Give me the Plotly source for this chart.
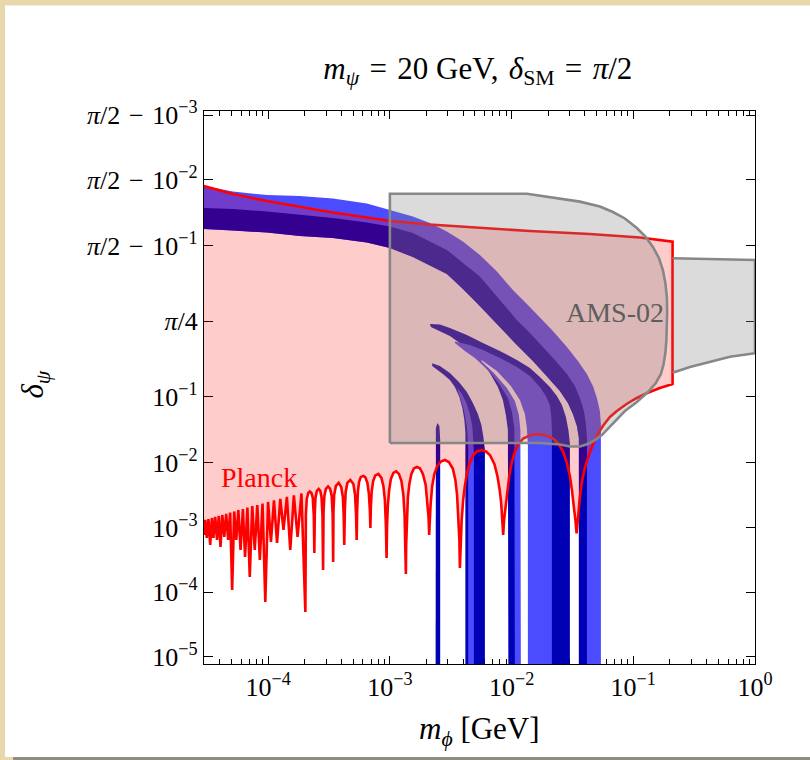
import numpy as np
import plotly.graph_objects as go

HALF_PI = np.pi / 2


def axis_y(delta):
    """Vertical coordinate: log10(delta / (pi/2 - delta))."""
    d = np.asarray(delta, dtype=float)
    return np.log10(d / (HALF_PI - d))


# ---------------------------------------------------------------- data
# (m_phi [GeV], delta_psi) pairs

# Planck: upper edge, left to right
planck_top = [
    (2.96e-5, 1.5583), (5.13e-5, 1.5542), (9.76e-5, 1.5496), (1.822e-4, 1.5446),
    (3.401e-4, 1.5391), (6.471e-4, 1.5330), (1.0e-3, 1.5281), (2.132e-3, 1.5226),
    (5.49e-3, 1.5164), (1.414e-2, 1.5105), (4.399e-2, 1.5040), (0.1133, 1.4956),
    (0.2103, 1.4841),
]

# Planck: lower edge with the resonance dips, right to left
planck_low = [
    (0.2103, 0.1516), (0.1654, 0.13316), (0.1286, 0.11184), (0.1050, 0.09404),
    (0.0881, 0.07813), (0.07332, 0.06153), (0.06423, 0.05006), (0.05626, 0.03663),
    (0.05118, 0.02770), (0.04683, 0.01949), (0.04317, 0.01322), (0.04003, 8.386e-3),
    (0.03781, 5.088e-3), (0.03640, 2.979e-3), (0.03539, 1.745e-3), (0.03459, 1.098e-3),
    (0.03420, 8.16e-4),
    (0.03343, 1.312e-3), (0.03250, 2.241e-3), (0.03130, 3.825e-3), (0.03013, 6.302e-3),
    (0.02847, 9.96e-3), (0.02655, 0.01469), (0.02401, 0.02019), (0.02197, 0.02366),
    (0.01913, 0.02627), (0.01654, 0.02741), (0.01414, 0.02627), (0.01245, 0.02366),
    (0.01127, 0.01883), (0.01064, 0.01469), (0.01006, 0.01031), (9.592e-3, 6.532e-3),
    (9.237e-3, 3.825e-3), (8.895e-3, 2.241e-3), (8.678e-3, 1.312e-3), (8.531e-3, 7.684e-4),
    (8.402e-3, 1.409e-3), (8.212e-3, 2.406e-3), (7.983e-3, 3.825e-3), (7.643e-3, 6.302e-3),
    (7.222e-3, 9.61e-3), (6.634e-3, 0.01322), (6.150e-3, 0.01496), (5.669e-3, 0.01577),
    (5.187e-3, 0.01496), (4.808e-3, 0.01276), (4.498e-3, 9.61e-3), (4.291e-3, 6.770e-3),
    (4.132e-3, 4.412e-3), (4.001e-3, 2.678e-3), (3.890e-3, 1.312e-3), (3.817e-3, 6.429e-4),
    (3.760e-3, 2.367e-4),
    (3.724e-3, 6.429e-4), (3.655e-3, 1.568e-3), (3.566e-3, 3.199e-3), (3.452e-3, 5.464e-3),
    (3.293e-3, 8.091e-3), (3.053e-3, 0.01031), (2.830e-3, 0.01108), (2.625e-3, 0.01050),
    (2.457e-3, 8.95e-3), (2.322e-3, 6.770e-3), (2.227e-3, 4.412e-3), (2.160e-3, 2.241e-3),
    (2.123e-3, 1.312e-3), (2.103e-3, 7.684e-4),
    (2.080e-3, 1.409e-3), (2.033e-3, 2.678e-3), (1.969e-3, 4.571e-3), (1.867e-3, 6.770e-3),
    (1.764e-3, 8.237e-3), (1.667e-3, 8.690e-3), (1.575e-3, 8.237e-3), (1.502e-3, 6.770e-3),
    (1.446e-3, 4.737e-3), (1.405e-3, 2.876e-3), (1.379e-3, 1.312e-3), (1.361e-3, 5.378e-4),
    (1.353e-3, 1.912e-4),
    (1.341e-3, 6.429e-4), (1.321e-3, 1.568e-3), (1.291e-3, 3.199e-3), (1.243e-3, 5.273e-3),
    (1.186e-3, 6.770e-3), (1.127e-3, 7.401e-3), (1.069e-3, 7.016e-3), (1.019e-3, 5.662e-3),
    (9.868e-4, 3.825e-3), (9.629e-4, 2.241e-3), (9.484e-4, 1.098e-3), (9.395e-4, 3.382e-4),
    (9.271e-4, 1.098e-3), (9.098e-4, 2.678e-3), (8.843e-4, 4.412e-3), (8.516e-4, 5.868e-3),
    (8.044e-4, 6.770e-3), (7.600e-4, 6.418e-3), (7.290e-4, 5.273e-3), (7.087e-4, 3.562e-3),
    (6.980e-4, 2.086e-3), (6.914e-4, 9.863e-4),
    (6.849e-4, 1.874e-3), (6.720e-4, 3.316e-3), (6.532e-4, 4.910e-3), (6.290e-4, 5.974e-3),
    (6.057e-4, 6.302e-3), (5.776e-4, 6.081e-3), (5.583e-4, 5.088e-3), (5.458e-4, 3.562e-3),
    (5.386e-4, 1.874e-3), (5.335e-4, 6.429e-4),
    (5.275e-4, 1.568e-3), (5.176e-4, 3.199e-3), (5.012e-4, 4.737e-3), (4.735e-4, 5.464e-3),
    (4.474e-4, 4.910e-3), (4.332e-4, 3.562e-3), (4.267e-4, 1.874e-3), (4.219e-4, 5.378e-4),
    (4.172e-4, 1.568e-3), (4.109e-4, 2.979e-3), (3.980e-4, 4.258e-3), (3.796e-4, 4.910e-3),
    (3.600e-4, 4.412e-3), (3.486e-4, 3.199e-3), (3.440e-4, 1.745e-3), (3.420e-4, 2.933e-4),
    (3.388e-4, 1.568e-3), (3.325e-4, 3.088e-3), (3.231e-4, 3.964e-3), (3.106e-4, 4.334e-3),
    (2.979e-4, 3.964e-3), (2.896e-4, 3.088e-3), (2.852e-4, 1.745e-3), (2.826e-4, 2.205e-4),
    (2.794e-4, 1.568e-3), (2.742e-4, 2.979e-3), (2.680e-4, 3.692e-3), (2.600e-4, 3.964e-3),
    (2.513e-4, 3.692e-3), (2.447e-4, 2.876e-3), (2.415e-4, 1.568e-3), (2.396e-4, 4.044e-4),
    (2.370e-4, 1.568e-3), (2.325e-4, 2.876e-3), (2.268e-4, 3.437e-3), (2.200e-4, 3.626e-3),
    (2.135e-4, 3.437e-3), (2.075e-4, 2.775e-3), (2.041e-4, 1.568e-3), (2.021e-4, 4.928e-5),
    (1.877e-4, 3.376e-3), (1.744e-4, 7.155e-4), (1.626e-4, 3.143e-3), (1.519e-4, 4.499e-4),
    (1.425e-4, 2.979e-3), (1.336e-4, 9.183e-4), (1.258e-4, 2.774e-3), (1.183e-4, 5.776e-4),
    (1.116e-4, 2.630e-3), (1.054e-4, 5.986e-4), (9.98e-5, 2.493e-3), (9.47e-5, 7.04e-5),
    (8.99e-5, 2.363e-3), (8.54e-5, 3.149e-4), (8.14e-5, 2.241e-3), (7.76e-5, 4.499e-4),
    (7.40e-5, 2.161e-3), (7.06e-5, 1.717e-4), (6.75e-5, 2.049e-3), (6.46e-5, 3.506e-4),
    (6.20e-5, 1.943e-3), (5.93e-5, 4.499e-4), (5.69e-5, 1.874e-3), (5.47e-5, 6.429e-4),
    (5.26e-5, 1.777e-3), (5.06e-5, 1.080e-4), (4.87e-5, 1.714e-3), (4.69e-5, 6.429e-4),
    (4.52e-5, 1.625e-3), (4.36e-5, 7.155e-4), (4.20e-5, 1.568e-3), (4.06e-5, 5.006e-4),
    (3.93e-5, 1.513e-3), (3.80e-5, 6.429e-4), (3.67e-5, 1.460e-3), (3.55e-5, 6.904e-4),
    (3.45e-5, 1.409e-3), (3.34e-5, 5.378e-4), (3.23e-5, 1.359e-3), (3.13e-5, 6.904e-4),
    (3.04e-5, 1.312e-3), (2.96e-5, 7.684e-4),
]

# AMS-02: rounded region and the band continuing to the right
ams_box = [
    (1.0e-3, 0.0202), (1.0e-3, 1.5544), (1.336e-2, 1.5544), (2.269e-2, 1.5520),
    (3.640e-2, 1.5491), (5.315e-2, 1.5451), (6.799e-2, 1.5396), (8.531e-2, 1.5317),
    (0.1070, 1.5164), (0.1269, 1.4968), (0.1449, 1.4672), (0.1623, 1.4221),
    (0.1751, 1.3536), (0.1835, 1.2515), (0.1888, 1.1059), (0.1899, 0.9145),
    (0.1888, 0.7337), (0.1871, 0.5327),
    (0.1835, 0.3833), (0.1768, 0.2731), (0.1686, 0.2080), (0.1533, 0.1566),
    (0.1318, 0.1168), (0.1070, 0.08358), (8.531e-2, 0.06153), (7.332e-2, 0.04670),
    (6.423e-2, 0.03537), (5.521e-2, 0.0267), (4.836e-2, 0.0224), (4.236e-2, 0.01949),
    (3.640e-2, 0.01785), (3.013e-2, 0.01785), (2.494e-2, 0.01915), (1.708e-2, 0.02019),
    (1.0e-3, 0.0202),
]
ams_tail = [
    (0.2103, 1.4207), (0.3525, 1.4182), (0.6220, 1.4148), (1.0, 1.4122),
    (1.0, 0.3802), (0.6220, 0.3463), (0.4002, 0.2921), (0.2919, 0.2573),
    (0.2103, 0.2166),
]

# main band: outer edge, light/dark split, inner edge
band_outer = [
    (2.96e-5, 1.5583), (5.13e-5, 1.5556), (9.76e-5, 1.5536), (1.822e-4, 1.5530),
    (3.401e-4, 1.5514), (6.471e-4, 1.5476), (1.0e-3, 1.5417), (1.545e-3, 1.5343),
    (2.132e-3, 1.5251), (2.940e-3, 1.5095), (3.979e-3, 1.4846), (5.490e-3, 1.4359),
    (7.572e-3, 1.3435), (1.025e-2, 1.1833), (1.336e-2, 1.0204), (1.708e-2, 0.8455),
    (2.185e-2, 0.6509), (2.847e-2, 0.4486), (3.505e-2, 0.3068), (4.157e-2, 0.2080),
    (4.656e-2, 0.1421), (5.023e-2, 0.09561), (5.315e-2, 0.06153), (5.418e-2, 0.0379),
    (5.418e-2, 5e-6),
]
band_split = [
    (2.96e-5, 1.5437), (5.13e-5, 1.5427), (9.76e-5, 1.5401), (1.822e-4, 1.5362),
    (3.401e-4, 1.5323), (6.471e-4, 1.5258), (1.0e-3, 1.5192), (1.545e-3, 1.5062),
    (2.940e-3, 1.4564), (5.490e-3, 1.3065), (8.482e-3, 1.0330), (1.105e-2, 0.8034),
    (1.414e-2, 0.6238), (1.808e-2, 0.4486), (2.269e-2, 0.3156), (2.847e-2, 0.2080),
    (3.312e-2, 0.1421), (3.640e-2, 0.09561), (3.927e-2, 0.06153), (4.078e-2, 0.03927),
    (4.157e-2, 0.02582), (4.157e-2, 5e-6),
]
band_inner = [
    (2.96e-5, 1.5145), (5.13e-5, 1.5115), (9.76e-5, 1.5073), (1.822e-4, 1.4993),
    (3.401e-4, 1.4943), (6.471e-4, 1.4817), (1.0e-3, 1.4637), (1.545e-3, 1.4268),
    (2.940e-3, 1.3256), (3.905e-3, 1.2039), (5.090e-3, 1.0455), (6.634e-3, 0.8594),
    (8.482e-3, 0.6646), (1.105e-2, 0.4719), (1.496e-2, 0.3068), (1.950e-2, 0.1954),
    (2.494e-2, 0.1207), (2.901e-2, 0.08082), (3.189e-2, 0.05553), (3.440e-2, 0.03663),
    (3.573e-2, 0.02406), (3.573e-2, 5e-6),
]

# first finger: outline, light core, empty sliver
finger1_upper = [
    (2.132e-3, 0.7476), (2.576e-3, 0.7406), (3.112e-3, 0.6920), (4.292e-3, 0.5973),
    (5.810e-3, 0.4957), (8.015e-3, 0.4044), (1.105e-2, 0.3156), (1.414e-2, 0.2497),
    (1.708e-2, 0.1894), (2.064e-2, 0.1376), (2.357e-2, 0.1023), (2.590e-2, 0.0755),
    (2.795e-2, 0.05006), (2.929e-2, 0.0319), (3.013e-2, 0.02019), (3.013e-2, 5e-6),
]
finger1_lower = [
    (2.173e-3, 0.7059), (2.576e-3, 0.6509), (3.112e-3, 0.5841), (4.292e-3, 0.4374),
    (5.490e-3, 0.3156), (6.634e-3, 0.2144), (7.716e-3, 0.1376), (8.482e-3, 0.0894),
    (8.980e-3, 0.0536), (9.325e-3, 0.0319), (9.413e-3, 0.0188), (9.413e-3, 5e-6),
]
finger1_core_upper = [
    (3.420e-3, 0.5141), (4.544e-3, 0.4719), (5.810e-3, 0.4152), (8.015e-3, 0.3339),
    (1.105e-2, 0.2573), (1.414e-2, 0.1954), (1.708e-2, 0.1376), (1.913e-2, 0.1023),
    (2.064e-2, 0.0755), (2.123e-2, 0.05006), (2.143e-2, 0.0319), (2.143e-2, 5e-6),
]
finger1_core_lower = [
    (3.420e-3, 0.4957), (4.132e-3, 0.4044), (4.994e-3, 0.3339), (6.634e-3, 0.2212),
    (8.015e-3, 0.1468), (9.325e-3, 0.09561), (1.006e-2, 0.05946), (1.054e-2, 0.03416),
    (1.064e-2, 0.02019), (1.064e-2, 5e-6),
]
finger1_gap_right = [
    (5.669e-3, 0.3156), (7.572e-3, 0.2280), (9.868e-3, 0.1421), (1.170e-2, 0.0894),
    (1.286e-2, 0.05553), (1.336e-2, 0.03416), (1.361e-2, 0.0188), (1.361e-2, 5e-6),
]
finger1_gap_left = [
    (5.669e-3, 0.3024), (7.154e-3, 0.2144), (9.151e-3, 0.13316), (1.064e-2, 0.08646),
    (1.148e-2, 0.0536), (1.181e-2, 0.0319), (1.192e-2, 0.0188), (1.192e-2, 5e-6),
]

# second finger
finger2_upper = [
    (2.227e-3, 0.2869), (2.576e-3, 0.2651), (3.112e-3, 0.2144), (3.690e-3, 0.1617),
    (4.292e-3, 0.1168), (4.808e-3, 0.08082), (5.285e-3, 0.05553), (5.648e-3, 0.0379),
    (5.867e-3, 0.02494), (6.035e-3, 0.01577), (6.035e-3, 5e-6),
]
finger2_lower = [
    (2.227e-3, 0.2651), (2.726e-3, 0.2080), (3.112e-3, 0.1723), (3.420e-3, 0.1376),
    (3.724e-3, 0.09894), (3.941e-3, 0.06819), (4.094e-3, 0.0451), (4.172e-3, 0.02870),
    (4.172e-3, 0.0188), (4.172e-3, 5e-6),
]
finger2_core_right = [
    (3.586e-3, 0.13316), (3.905e-3, 0.1093), (4.252e-3, 0.08082), (4.544e-3, 0.05553),
    (4.764e-3, 0.03537), (4.855e-3, 0.0224), (4.901e-3, 0.01469), (4.901e-3, 5e-6),
]
finger2_core_left = [
    (3.586e-3, 0.1268), (3.795e-3, 0.09561), (4.017e-3, 0.06819), (4.211e-3, 0.0451),
    (4.333e-3, 0.02971), (4.399e-3, 0.0188), (4.399e-3, 5e-6),
]

# narrow streak
streak = [
    (2.375e-3, 5e-6), (2.375e-3, 0.0224), (2.388e-3, 0.03416), (2.457e-3, 0.04066),
    (2.552e-3, 0.03663), (2.591e-3, 0.0224), (2.591e-3, 5e-6),
]

# axis ticks
x_tick_vals = [1e-4, 1e-3, 1e-2, 1e-1, 1.0]
x_tick_text = ["10<sup>−4</sup>", "10<sup>−3</sup>", "10<sup>−2</sup>",
               "10<sup>−1</sup>", "10<sup>0</sup>"]
x_minor_vals = [k * 10.0 ** e for e in range(-5, 0) for k in range(2, 10)]

y_tick_delta = [HALF_PI - 1e-3, HALF_PI - 1e-2, HALF_PI - 1e-1, np.pi / 4,
                1e-1, 1e-2, 1e-3, 1e-4, 1e-5]
SP = "\u2004"
y_tick_text = [f"<i>π</i>/2{SP}−{SP}10<sup>−3</sup>", f"<i>π</i>/2{SP}−{SP}10<sup>−2</sup>",
               f"<i>π</i>/2{SP}−{SP}10<sup>−1</sup>", "<i>π</i>/4",
               "10<sup>−1</sup>", "10<sup>−2</sup>", "10<sup>−3</sup>",
               "10<sup>−4</sup>", "10<sup>−5</sup>"]

# ---------------------------------------------------------------- colours
LIGHT_BLUE = "#4b4bff"
DARK_BLUE = "#0000b4"
PLANCK_FILL = "rgba(255,0,0,0.2)"
PLANCK_LINE = "#ff0000"
AMS_FILL = "rgba(136,136,136,0.3)"
AMS_LINE = "#878787"
SERIF = "Liberation Serif, DejaVu Serif, serif"


def xy(points):
    xs = [p[0] for p in points]
    ys = axis_y([p[1] for p in points]).tolist()
    return xs, ys


def ring(forward, backward=()):
    return xy(list(forward) + list(reversed(list(backward))))


fig = go.Figure()


def add_area(xs, ys, color):
    fig.add_trace(go.Scatter(
        x=xs, y=ys, mode="lines", fill="toself", fillcolor=color,
        line=dict(width=0, color=color), hoverinfo="skip", showlegend=False))


def add_path(xs, ys, color, width):
    fig.add_trace(go.Scatter(
        x=xs, y=ys, mode="lines", line=dict(color=color, width=width),
        hoverinfo="skip", showlegend=False))


# blue bands
add_area(*ring(band_outer, band_inner), LIGHT_BLUE)
add_area(*ring(band_split, band_inner), DARK_BLUE)
add_area(*ring(finger1_upper, finger1_lower), DARK_BLUE)
add_area(*ring(finger1_core_upper, finger1_core_lower), LIGHT_BLUE)
add_area(*ring(finger1_gap_right, finger1_gap_left), "white")
add_area(*ring(finger2_upper, finger2_lower), DARK_BLUE)
add_area(*ring(finger2_core_right, finger2_core_left), LIGHT_BLUE)
add_area(*ring(streak), DARK_BLUE)

# Planck excluded region and its boundary
planck_path = planck_top + planck_low
add_area(*xy(planck_path), PLANCK_FILL)
add_path(*xy(planck_path), PLANCK_LINE, 2.6)

# AMS-02 region
add_area(*xy(ams_box), AMS_FILL)
add_area(*xy(ams_tail), AMS_FILL)
add_path(*xy(ams_box), AMS_LINE, 2.6)
add_path(*xy(ams_tail), AMS_LINE, 2.6)

# labels inside the plot
fig.add_annotation(x=np.log10(8.39e-5), y=float(axis_y(5.87e-3)), xref="x", yref="y",
                   xanchor="center", yanchor="middle",
                   text="Planck", showarrow=False,
                   font=dict(family=SERIF, size=28, color=PLANCK_LINE))
fig.add_annotation(x=np.log10(7.06e-2), y=float(axis_y(0.9145)), xref="x", yref="y",
                   xanchor="center", yanchor="middle",
                   text="AMS-02", showarrow=False,
                   font=dict(family=SERIF, size=28, color="#5e5e5e"))

# axis titles
fig.add_annotation(x=0.5, y=-0.121, xref="paper", yref="paper",
                   xanchor="center", yanchor="middle",
                   text="<i>m</i><sub><i>ϕ</i></sub> [GeV]", showarrow=False,
                   font=dict(family=SERIF, size=31, color="black"))
fig.add_annotation(x=-0.307, y=0.505, xref="paper", yref="paper", textangle=-90,
                   xanchor="center", yanchor="middle",
                   text="<i>δ</i><sub><i>ψ</i></sub>", showarrow=False,
                   font=dict(family=SERIF, size=31, color="black"))

axis_common = dict(
    showline=True, linecolor="black", linewidth=1.2, mirror="allticks",
    ticks="inside", tickcolor="black", tickwidth=1, showgrid=False,
    zeroline=False, layer="below traces",
    tickfont=dict(family=SERIF, size=26, color="black"),
)

fig.update_layout(
    width=810, height=760,
    margin=dict(l=204, r=55, t=111, b=96),
    paper_bgcolor="#e9d8ac",
    plot_bgcolor="white",
    title=dict(
        text=(f"<i>m</i><sub><i>ψ</i></sub>{SP}={SP}20 GeV,{SP}"
              f"<i>δ</i><sub>SM</sub>{SP}={SP}<i>π</i>/2"),
        x=0.497, xref="paper", xanchor="center", y=1 - 68 / 760, yanchor="middle",
        font=dict(family=SERIF, size=31, color="black")),
    xaxis=dict(
        type="log", range=[np.log10(2.97e-5), 0.0],
        tickvals=x_tick_vals, ticktext=x_tick_text, ticklen=8,
        minor=dict(tickvals=x_minor_vals, ticks="inside", ticklen=4.5,
                   tickcolor="black", showgrid=False),
        **axis_common),
    yaxis=dict(
        range=[-5.3091, 3.2580],
        tickvals=axis_y(y_tick_delta).tolist(), ticktext=y_tick_text, ticklen=9,
        **axis_common),
    shapes=[
        dict(type="rect", xref="paper", yref="paper", x0=-0.3612, x1=1.12,
             y0=-0.1681, y1=1.1910, fillcolor="white", line_width=0, layer="below"),
        dict(type="rect", xref="paper", yref="paper", x0=-0.3466, x1=1.12,
             y0=-0.19, y1=-0.1681, fillcolor="#8f8d84", line_width=0, layer="below"),
    ],
)

fig.write_html("out.html")
